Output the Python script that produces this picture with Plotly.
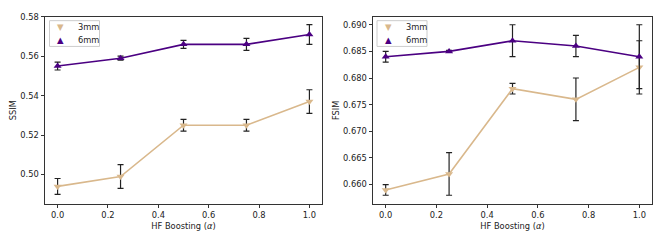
import plotly.graph_objects as go

alpha = [0.0, 0.25, 0.5, 0.75, 1.0]

ssim_3mm = [0.494, 0.499, 0.525, 0.525, 0.537]
ssim_3mm_err = [0.004, 0.006, 0.003, 0.003, 0.006]
ssim_6mm = [0.555, 0.559, 0.566, 0.566, 0.571]
ssim_6mm_err = [0.002, 0.001, 0.002, 0.003, 0.005]

fsim_3mm = [0.659, 0.662, 0.678, 0.676, 0.682]
fsim_3mm_err = [0.001, 0.004, 0.001, 0.004, 0.005]
fsim_6mm = [0.684, 0.685, 0.687, 0.686, 0.684]
fsim_6mm_err = [0.001, 0.0002, 0.003, 0.002, 0.006]

labels = ["3mm", "6mm"]
C3 = "#D9B88C"
C6 = "#4B0082"
FONT = "DejaVu Sans"
FS = 8.3
W, H = 660, 240

fig = go.Figure()

def add_panel(xa, ya, y3, e3, y6, e6):
    for y, e, c, sym, name in [(y3, e3, C3, "triangle-down", labels[0]),
                               (y6, e6, C6, "triangle-up", labels[1])]:
        fig.add_trace(go.Scatter(
            x=alpha, y=y, mode="lines+markers", xaxis=xa, yaxis=ya, name=name,
            line=dict(color=c, width=1.6),
            marker=dict(symbol=sym, size=7, color=c),
            error_y=dict(type="data", array=e, color="#222222", thickness=1.2, width=3),
            showlegend=False))

add_panel("x", "y", ssim_3mm, ssim_3mm_err, ssim_6mm, ssim_6mm_err)
add_panel("x2", "y2", fsim_3mm, fsim_3mm_err, fsim_6mm, fsim_6mm_err)

# compact matplotlib-style legends (box + marker glyphs + labels)
shapes, annos = [], []
for bx in (49.5, 377):
    shapes.append(dict(type="rect", xref="paper", yref="paper", layer="above",
                       x0=bx/W, x1=(bx+50)/W, y0=1-42.3/H, y1=1-16/H,
                       line=dict(color="#cccccc", width=1), fillcolor="rgba(255,255,255,0.8)"))
    for row, (lab, col, glyph) in enumerate(zip(labels, [C3, C6], ["▼", "▲"])):
        yc = 1 - (22.5 + 13.2 * row) / H
        annos.append(dict(xref="paper", yref="paper", x=(bx+11)/W, y=yc, text=glyph,
                          showarrow=False, xanchor="center", yanchor="middle",
                          font=dict(family=FONT, size=8.5, color=col)))
        annos.append(dict(xref="paper", yref="paper", x=(bx+26.5)/W, y=yc, text=lab,
                          showarrow=False, xanchor="left", yanchor="middle",
                          font=dict(family=FONT, size=FS, color="#222")))

axis_common = dict(showline=True, linecolor="#333333", linewidth=1, mirror=True,
                   ticks="outside", ticklen=3.5, tickcolor="#333333", showgrid=False,
                   zeroline=False, tickfont=dict(family=FONT, size=FS, color="#222"))

xcommon = dict(axis_common, range=[-0.05, 1.05], tickvals=[0, 0.2, 0.4, 0.6, 0.8, 1.0],
               tickformat=".1f",
               title=dict(text="HF Boosting (<i>α</i>)", font=dict(family=FONT, size=FS, color="#222"), standoff=3))

fig.update_layout(
    width=W, height=H, margin=dict(l=0, r=0, t=0, b=0),
    paper_bgcolor="white", plot_bgcolor="white", showlegend=False,
    xaxis=dict(xcommon, domain=[45/W, 322/W], anchor="y"),
    yaxis=dict(axis_common, domain=[1-203/H, 1-12/H], anchor="x", range=[0.4852, 0.58],
               tickvals=[0.50, 0.52, 0.54, 0.56, 0.58], tickformat=".2f",
               title=dict(text="SSIM", font=dict(family=FONT, size=FS, color="#222"), standoff=2)),
    xaxis2=dict(xcommon, domain=[373/W, 652/W], anchor="y2"),
    yaxis2=dict(axis_common, domain=[1-203/H, 1-12/H], anchor="x2", range=[0.6564, 0.6915],
                tickvals=[0.660, 0.665, 0.670, 0.675, 0.680, 0.685, 0.690], tickformat=".3f",
                title=dict(text="FSIM", font=dict(family=FONT, size=FS, color="#222"), standoff=2)),
    shapes=shapes, annotations=annos,
)

fig.write_html("out.html", config={"displayModeBar": False},
               post_script="document.body.style.margin='0px';")
